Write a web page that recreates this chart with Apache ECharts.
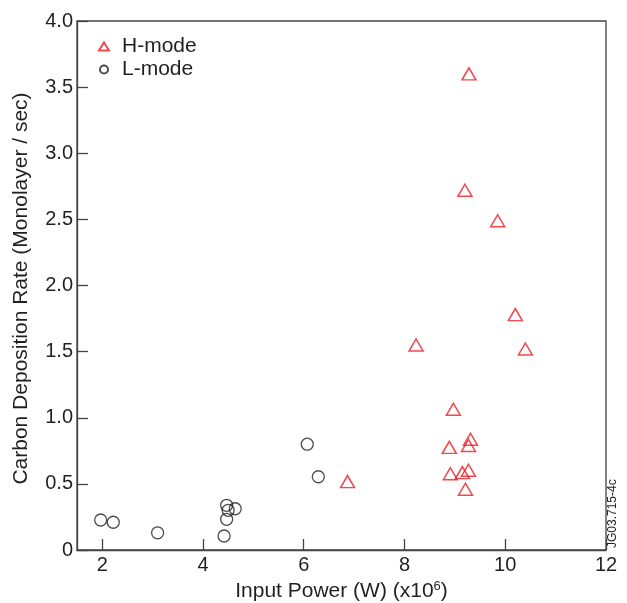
<!DOCTYPE html>
<html><head><meta charset="utf-8">
<script src="https://cdn.jsdelivr.net/npm/echarts@6/dist/echarts.min.js"></script>
<style>html,body{margin:0;padding:0;background:#fff}#c{width:627px;height:603px}</style>
</head><body><div id="c"></div>
<script>
var hModeX = [9.28, 9.20, 9.85, 10.20, 8.23, 10.40, 8.97, 8.89, 9.31, 9.27, 8.91, 9.15, 9.27, 9.21, 6.87];
var hModeY = [3.60, 2.72, 2.49, 1.78, 1.55, 1.52, 1.064, 0.776, 0.837, 0.79, 0.577, 0.585, 0.603, 0.459, 0.517];
var lModeX = [1.97, 2.22, 3.10, 4.42, 4.47, 4.50, 4.47, 4.64, 6.07, 6.29];
var lModeY = [0.227, 0.21, 0.13, 0.106, 0.338, 0.30, 0.232, 0.312, 0.80, 0.554];
var xTicks = [2, 4, 6, 8, 10, 12];
var seriesNames = ['H-mode', 'L-mode'];
var xTitle = 'Input Power (W) (x10{sup|6})';
var yTitle = 'Carbon Deposition Rate (Monolayer / sec)';
var stamp = 'JG03.715-4c';

function pairs(xs, ys){ return xs.map(function(x,i){ return [x, ys[i]]; }); }
var FONT = '"Liberation Sans", Arial, Helvetica, sans-serif';
var AX = '#444';
var TXT = '#231f20';
var RED = '#ec1c24';
var chart = echarts.init(document.getElementById('c'), null, {renderer:'canvas'});
chart.setOption({
  animation:false,
  textStyle:{fontFamily:FONT},
  grid:{left:77, top:21, right:21, bottom:53, show:true, borderColor:AX, borderWidth:1.3,
        containLabel:false, outerBoundsMode:'none'},
  legend:{
    orient:'vertical', left:93, top:31, itemGap:2, itemWidth:10, itemHeight:8,
    textStyle:{fontSize:21, color:TXT, fontFamily:FONT, padding:[0,0,0,8]},
    data:seriesNames
  },
  xAxis:{
    type:'value', min:1.5, max:12,
    name:xTitle, nameLocation:'middle', nameGap:28,
    nameTextStyle:{fontSize:21, color:TXT, fontFamily:FONT,
      rich:{sup:{fontSize:13, padding:[0,0,9,0], verticalAlign:'bottom'}}},
    axisLine:{lineStyle:{color:AX, width:1.3}},
    axisTick:{inside:true, length:11, customValues:xTicks, lineStyle:{color:AX, width:1.3}},
    axisLabel:{customValues:xTicks, fontSize:20, color:TXT, margin:5, fontFamily:FONT},
    splitLine:{show:false}
  },
  yAxis:{
    type:'value', min:0, max:4, interval:0.5,
    name:yTitle, nameLocation:'middle', nameGap:45,
    nameTextStyle:{fontSize:21, color:TXT, fontFamily:FONT, padding:[0,6,0,0]},
    axisLine:{lineStyle:{color:AX, width:1.3}},
    axisTick:{inside:true, length:11, lineStyle:{color:AX, width:1.3}},
    axisLabel:{fontSize:20, color:TXT, margin:4, fontFamily:FONT,
      formatter:function(v){ return v===0 ? '0' : v.toFixed(1); }},
    splitLine:{show:false}
  },
  series:[
    {name:seriesNames[0], type:'scatter', symbol:'triangle', symbolSize:[14,12],
     itemStyle:{color:'rgba(255,255,255,0)', borderColor:RED, borderWidth:1.5},
     data:pairs(hModeX, hModeY), z:3},
    {name:seriesNames[1], type:'scatter', symbol:'circle', symbolSize:12,
     itemStyle:{color:'rgba(255,255,255,0)', borderColor:TXT, borderWidth:1.3},
     data:pairs(lModeX, lModeY), z:2}
  ],
  graphic:[
    {type:'text', x:613, y:548, rotation:Math.PI/2,
     style:{text:stamp, fontSize:12, fill:TXT, fontFamily:FONT, textAlign:'left', textVerticalAlign:'middle'}}
  ]
});
</script></body></html>
